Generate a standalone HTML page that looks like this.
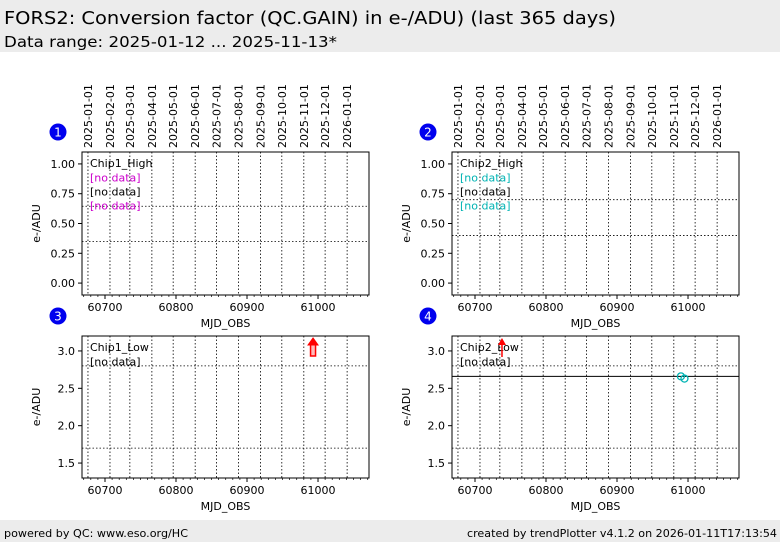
<!DOCTYPE html>
<html><head><meta charset="utf-8"><style>
html,body{margin:0;padding:0;background:#fff;}
svg{display:block;font-family:"DejaVu Sans","Liberation Sans",sans-serif;}
</style></head><body>
<svg id="chart" width="782" height="542" viewBox="0 0 782 542" xmlns="http://www.w3.org/2000/svg">
<rect x="0" y="0" width="780" height="52" fill="#ececec"/>
<text x="4" y="24" font-size="18" textLength="612" lengthAdjust="spacingAndGlyphs">FORS2: Conversion factor (QC.GAIN) in e-/ADU) (last 365 days)</text>
<text x="4" y="47" font-size="15" textLength="333" lengthAdjust="spacingAndGlyphs">Data range: 2025-01-12 ... 2025-11-13*</text>
<rect x="0" y="520" width="780" height="22" fill="#ececec"/>
<text x="4" y="537" font-size="11" textLength="184" lengthAdjust="spacingAndGlyphs">powered by QC: www.eso.org/HC</text>
<text x="777" y="537" font-size="11" text-anchor="end" textLength="310" lengthAdjust="spacingAndGlyphs">created by trendPlotter v4.1.2 on 2026-01-11T17:13:54</text>
<g id="panels"></g>
</svg>
<script>
const xMin = 60667.6, xMax = 61071.8;
const xTicks = [60700, 60800, 60900, 61000];
const dateLabels = ["2025-01-01","2025-02-01","2025-03-01","2025-04-01","2025-05-01","2025-06-01","2025-07-01","2025-08-01","2025-09-01","2025-10-01","2025-11-01","2025-12-01","2026-01-01"];
const dateMjd = [60676,60707,60735,60766,60796,60827,60857,60888,60919,60949,60980,61010,61041];
const p1Ticks = [0.00,0.25,0.50,0.75,1.00];
const p1Ref = [0.645,0.35];
const p2Ref = [0.70,0.40];
const p3Ticks = [1.5,2.0,2.5,3.0];
const p3Ref = [2.8,1.7];
const p4Ref = [2.8,1.7];
const p4Median = [2.66];
const p4PointsX = [60990,60995];
const p4PointsY = [2.66,2.63];
const p3ArrowX = [60993];
const p4ArrowX = [60738];

const NS = "http://www.w3.org/2000/svg";
const root = document.getElementById('panels');
function mk(tag, attrs, parent, text){
  const e = document.createElementNS(NS, tag);
  for (const k in attrs) e.setAttribute(k, attrs[k]);
  if (text !== undefined) e.textContent = text;
  (parent||root).appendChild(e);
  return e;
}

const panels = [
  {n:1,x:82,y:152,w:287,h:143,yMin:-0.10,yMax:1.10,ticks:p1Ticks,dec:2,ref:p1Ref,label:"Chip1_High",notes:[["#cc00cc","[no data]"],["#000","[no data]"],["#cc00cc","[no data]"]],dates:true},
  {n:2,x:452,y:152,w:287,h:143,yMin:-0.10,yMax:1.10,ticks:p1Ticks,dec:2,ref:p2Ref,label:"Chip2_High",notes:[["#00b3b3","[no data]"],["#000","[no data]"],["#00b3b3","[no data]"]],dates:true},
  {n:3,x:82,y:336,w:287,h:142,yMin:1.30,yMax:3.20,ticks:p3Ticks,dec:1,ref:p3Ref,label:"Chip1_Low",notes:[["#000","[no data]"]]},
  {n:4,x:452,y:336,w:287,h:142,yMin:1.30,yMax:3.20,ticks:p3Ticks,dec:1,ref:p4Ref,label:"Chip2_Low",notes:[["#000","[no data]"]]}
];

panels.forEach(p => {
  const g = mk('g', {});
  
  
  const sx = v => p.x + (v - xMin) / (xMax - xMin) * p.w;
  const sy = v => p.y + p.h - (v - p.yMin) / (p.yMax - p.yMin) * p.h;
  dateMjd.forEach((m, i) => {
    const X = sx(m);
    const l = mk('line', {x1:X,x2:X,y1:p.y,y2:p.y+p.h,stroke:'#000','stroke-width':0.8,'stroke-dasharray':'1.5,2'}, g);
    
    
    if (p.dates) {
      const t = mk('text', {x:X+4, y:p.y-4, 'font-size':11, transform:`rotate(-90 ${X+4} ${p.y-4})`, fill:'#000'}, g, dateLabels[i]);
      
      
    }
  });
  p.ref.forEach(v => {
    const l = mk('line', {x1:p.x,x2:p.x+p.w,y1:sy(v),y2:sy(v),stroke:'#000','stroke-width':0.8,'stroke-dasharray':'1.5,2'}, g);
    
    
  });
  const fr = mk('rect', {x:p.x,y:p.y,width:p.w,height:p.h,fill:'none',stroke:'#000','stroke-width':1}, g);
  
  
  p.ticks.forEach(v => {
    const Y = sy(v);
    mk('line', {x1:p.x-4,x2:p.x,y1:Y,y2:Y,stroke:'#000'}, g);
    const t = mk('text', {x:p.x-7,y:Y+4,'font-size':11,'text-anchor':'end'}, g, v.toFixed(p.dec));
    
    
  });
  for (let m = Math.ceil(xMin/10)*10; m <= xMax; m += 10) {
    const X = sx(m);
    const major = m % 100 === 0;
    mk('line', {x1:X,x2:X,y1:p.y+p.h,y2:p.y+p.h+(major?4:2),stroke:'#000','stroke-width':major?1:0.7}, g);
  }
  xTicks.forEach(v => {
    const t = mk('text', {x:sx(v),y:p.y+p.h+16,'font-size':11,'text-anchor':'middle'}, g, String(v));
    
    
  });
  const xl = mk('text', {x:p.x+p.w/2,y:p.y+p.h+32,'font-size':11,'text-anchor':'middle'}, g, 'MJD_OBS');
  
  
  const yx = p.x - 42, yy = p.y + p.h/2;
  const yl = mk('text', {x:yx,y:yy,'font-size':11,'text-anchor':'middle',transform:`rotate(-90 ${yx} ${yy})`}, g, 'e-/ADU');
  
  
  const bx = p.x - 24, by = p.y - 20;
  const c = mk('circle', {cx:bx,cy:by,r:8.5,fill:'#0000ee'}, g);
  
  
  mk('text', {x:bx,y:by+4.5,'font-size':12,'text-anchor':'middle',fill:'#fff'}, g, String(p.n));
  const lb = mk('text', {x:p.x+8,y:p.y+15,'font-size':11}, g, p.label);
  
  
  p.notes.forEach((nt, i) => {
    const t = mk('text', {x:p.x+8,y:p.y+29.5+i*14,'font-size':11,fill:nt[0]}, g, nt[1]);
    
    
  });
  p.sx = sx; p.sy = sy; p.g = g;
});

const p3 = panels[2];
p3ArrowX.forEach(m => {
  const X = p3.sx(m);
  const a = mk('g', {}, p3.g);
  
  
  mk('rect', {x:X-2.5,y:p3.y+8,width:5,height:12,fill:'#fbb',stroke:'#f00','stroke-width':1.5}, a);
  mk('polygon', {points:`${X-5},${p3.y+9} ${X+5},${p3.y+9} ${X},${p3.y+2}`, fill:'#f00', stroke:'#f00'}, a);
});
const p4 = panels[3];
p4Median.forEach(v => {
  const l = mk('line', {x1:p4.x,x2:p4.x+p4.w,y1:p4.sy(v),y2:p4.sy(v),stroke:'#000','stroke-width':1}, p4.g);
  
  
});
p4PointsX.forEach((m, i) => {
  const c = mk('circle', {cx:p4.sx(m),cy:p4.sy(p4PointsY[i]),r:3.5,fill:'none',stroke:'#00b3b3','stroke-width':1.3}, p4.g);
  
  
});
p4ArrowX.forEach(m => {
  const X = p4.sx(m);
  const a = mk('g', {}, p4.g);
  
  
  mk('line', {x1:X,x2:X,y1:p4.y+21,y2:p4.y+8,stroke:'#f00','stroke-width':1.5}, a);
  mk('polygon', {points:`${X-4},${p4.y+9} ${X+4},${p4.y+9} ${X},${p4.y+2}`, fill:'#f00'}, a);
});
</script>
</body></html>
